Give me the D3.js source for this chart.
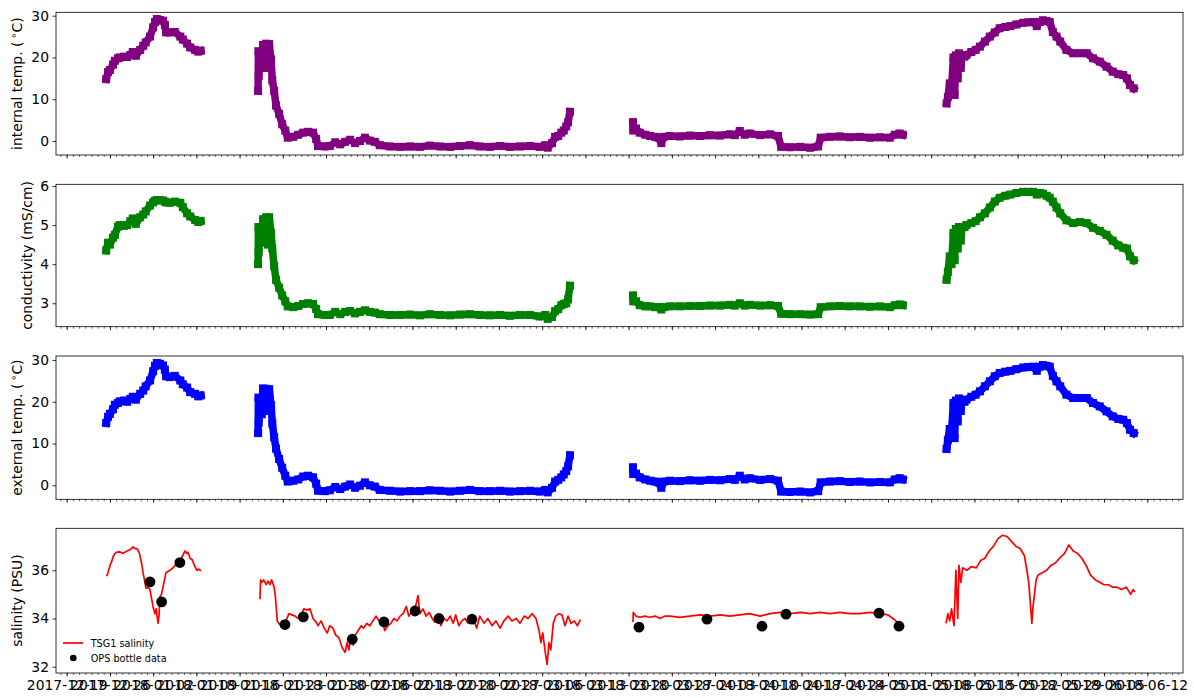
<!DOCTYPE html>
<html>
<head>
<meta charset="utf-8">
<script src="https://cdn.jsdelivr.net/npm/d3@7"></script>
<style>
  body { margin: 0; background: #fff; }
  svg text { font-family: "DejaVu Sans", sans-serif; }
</style>
</head>
<body>
<svg id="chart" width="1194" height="698"></svg>
<script>
// Times are days since 2017-12-19 (first labelled tick)
const t0 = new Date(2017, 11, 19);

// Segment A
const tA = [6.4, 6.7, 7.0, 7.5, 7.8, 8.3, 8.6, 9.3, 9.8, 10.3, 10.7, 11.2, 11.9, 12.4, 12.8, 13.5, 14.0, 14.3, 14.6, 15.1, 15.6, 15.9, 16.1, 16.7, 17.5, 18.4, 18.8, 19.5, 20.0, 20.8, 21.3, 21.7];
const intTempA = [14.8, 16.5, 17.0, 18.3, 19.2, 19.8, 20.0, 20.2, 20.1, 20.6, 21.3, 20.4, 21.8, 22.8, 23.6, 25.0, 27.2, 28.5, 29.2, 29.0, 28.8, 27.8, 26.0, 26.0, 26.1, 25.0, 24.3, 23.3, 22.4, 21.8, 21.4, 21.6];
const condA = [4.35, 4.55, 4.5, 4.68, 4.75, 4.96, 5.0, 4.98, 5.0, 5.1, 5.17, 5.03, 5.2, 5.27, 5.35, 5.5, 5.58, 5.62, 5.64, 5.64, 5.63, 5.6, 5.58, 5.57, 5.6, 5.57, 5.46, 5.3, 5.22, 5.13, 5.08, 5.1];
const extTempA = [14.9, 16.4, 17.1, 18.2, 19.3, 19.7, 20.1, 20.3, 20.0, 20.7, 21.2, 20.5, 21.9, 22.7, 23.7, 25.1, 27.3, 28.6, 29.3, 29.1, 28.7, 27.7, 26.1, 25.9, 26.2, 25.1, 24.2, 23.4, 22.3, 21.9, 21.3, 21.5];

// Segment B
const tB = [31.0, 31.05, 31.1, 31.3, 31.6, 31.8, 32.1, 32.3, 32.6, 32.8, 33.1, 33.3, 33.6, 33.9, 34.4, 34.9, 35.4, 35.8, 36.7, 37.5, 38.3, 39.1, 39.9, 40.4, 40.7, 41.8, 42.6, 43.5, 44.3, 45.1, 45.9, 46.7, 47.5, 48.3, 49.1, 49.9, 50.7, 52.4, 54.0, 55.6, 57.2, 58.8, 60.5, 62.1, 63.7, 65.3, 66.9, 68.5, 70.2, 71.8, 73.4, 75.0, 76.6, 77.5, 77.9, 78.6, 79.1, 79.6, 80.1, 80.5, 80.9, 81.2, 81.5];
const intTempB = [12.0, 21.5, 15.5, 20.5, 17.5, 23.0, 18.0, 23.3, 17.5, 23.2, 19.5, 14.5, 12.0, 8.5, 6.5, 4.0, 2.5, 0.8, 1.0, 1.5, 2.0, 2.2, 2.0, 0.5, -1.2, -1.3, -1.2, -0.3, -0.8, -0.2, 0.3, -0.5, 0.0, 0.8, 0.1, -0.2, -1.0, -1.3, -1.4, -1.3, -1.4, -1.1, -1.3, -1.4, -1.2, -1.0, -1.3, -1.4, -1.2, -1.4, -1.3, -1.2, -1.4, -1.0, -1.6, -0.5, 1.0, 1.2, 2.0, 2.5, 3.5, 4.5, 7.0];
const condB = [4.0, 4.95, 4.3, 4.8, 4.55, 5.15, 4.6, 5.2, 4.5, 5.2, 4.8, 4.4, 3.95, 3.6, 3.4, 3.2, 3.05, 2.92, 2.9, 2.93, 2.98, 3.0, 2.98, 2.85, 2.72, 2.7, 2.7, 2.78, 2.72, 2.78, 2.8, 2.74, 2.78, 2.82, 2.78, 2.76, 2.72, 2.7, 2.7, 2.71, 2.69, 2.72, 2.7, 2.69, 2.71, 2.72, 2.7, 2.69, 2.7, 2.68, 2.7, 2.7, 2.66, 2.7, 2.6, 2.65, 2.8, 2.85, 2.95, 2.98, 3.0, 3.1, 3.45];
const extTempB = [12.5, 21.0, 15.0, 20.8, 17.0, 23.2, 18.3, 23.1, 17.8, 23.0, 19.2, 14.8, 11.5, 8.8, 6.3, 4.2, 2.3, 0.9, 1.1, 1.4, 2.1, 2.3, 1.9, 0.4, -1.3, -1.4, -1.2, -0.4, -0.9, -0.3, 0.2, -0.6, -0.1, 0.7, 0.0, -0.3, -1.1, -1.3, -1.5, -1.4, -1.4, -1.2, -1.3, -1.5, -1.3, -1.1, -1.4, -1.4, -1.3, -1.5, -1.4, -1.3, -1.5, -1.1, -1.7, -0.6, 0.9, 1.3, 1.9, 2.6, 3.4, 4.6, 7.2];

// Segment C
const tC = [91.7, 91.75, 92.2, 92.8, 93.7, 94.5, 95.3, 95.8, 96.3, 96.7, 97.7, 99.3, 100.9, 102.6, 104.2, 105.8, 107.4, 108.2, 109.0, 109.8, 110.6, 112.3, 113.9, 115.2, 115.7, 117.1, 118.8, 120.4, 121.7, 122.1, 123.6, 125.2, 126.8, 128.4, 130.1, 131.7, 133.3, 134.1, 134.9, 135.4];
const intTempC = [4.5, 2.5, 3.0, 2.0, 1.5, 1.2, 1.0, 0.8, -0.5, 1.0, 1.2, 1.1, 1.3, 1.2, 1.4, 1.3, 1.6, 1.4, 2.4, 1.5, 1.8, 1.4, 1.6, 1.2, -1.4, -1.5, -1.4, -1.6, -1.3, 0.8, 1.0, 1.1, 0.9, 1.0, 0.8, 0.9, 0.8, 1.5, 1.8, 1.5];
const condC = [3.2, 3.05, 3.05, 2.95, 2.92, 2.92, 2.9, 2.9, 2.84, 2.9, 2.92, 2.92, 2.93, 2.93, 2.94, 2.94, 2.96, 2.94, 3.0, 2.94, 2.96, 2.94, 2.95, 2.93, 2.73, 2.72, 2.72, 2.71, 2.72, 2.9, 2.92, 2.93, 2.92, 2.92, 2.91, 2.92, 2.9, 2.95, 2.97, 2.95];
const extTempC = [4.3, 2.7, 2.8, 1.9, 1.4, 1.1, 0.9, 0.7, -0.6, 0.9, 1.1, 1.0, 1.2, 1.1, 1.3, 1.2, 1.5, 1.3, 2.3, 1.4, 1.7, 1.3, 1.5, 1.1, -1.5, -1.6, -1.5, -1.7, -1.4, 0.7, 0.9, 1.0, 0.8, 0.9, 0.7, 0.8, 0.7, 1.4, 1.7, 1.4];

// Segment D
const tD = [142.5, 142.7, 143.0, 143.3, 143.6, 143.8, 144.0, 144.3, 144.5, 144.8, 145.0, 145.4, 145.7, 146.5, 147.2, 147.9, 148.7, 149.5, 150.3, 151.1, 152.0, 152.8, 153.8, 154.9, 155.7, 156.5, 157.1, 157.6, 158.1, 158.7, 159.2, 159.7, 160.3, 160.9, 161.9, 163.0, 164.1, 165.2, 166.2, 167.3, 168.4, 169.4, 170.3, 171.1, 171.7, 172.2, 172.8];
const intTempD = [9.0, 10.5, 13.8, 12.5, 20.0, 11.0, 20.5, 15.0, 21.0, 17.5, 20.5, 20.2, 20.6, 21.3, 21.8, 22.6, 23.8, 25.0, 26.0, 27.0, 27.3, 27.5, 27.9, 28.3, 28.4, 28.5, 27.5, 28.5, 28.9, 28.7, 28.5, 26.1, 25.0, 23.8, 21.8, 21.0, 21.0, 21.0, 19.8, 19.0, 17.8, 16.6, 16.0, 15.8, 15.0, 13.4, 12.6];
const condD = [3.6, 3.8, 4.2, 4.0, 4.8, 4.1, 4.9, 4.4, 4.95, 4.6, 4.95, 4.95, 5.0, 5.05, 5.1, 5.2, 5.3, 5.45, 5.6, 5.7, 5.75, 5.78, 5.82, 5.85, 5.85, 5.85, 5.78, 5.82, 5.8, 5.75, 5.7, 5.6, 5.45, 5.3, 5.12, 5.05, 5.08, 5.05, 4.93, 4.85, 4.75, 4.6, 4.48, 4.42, 4.4, 4.2, 4.1];
const extTempD = [8.7, 10.8, 13.5, 12.8, 19.7, 11.3, 20.3, 15.3, 20.8, 17.8, 20.3, 20.0, 20.5, 21.2, 21.7, 22.5, 23.7, 24.9, 26.1, 26.9, 27.2, 27.4, 27.8, 28.2, 28.3, 28.4, 27.4, 28.4, 28.8, 28.6, 28.4, 26.2, 24.9, 23.7, 21.7, 20.9, 20.9, 20.9, 19.7, 18.9, 17.7, 16.5, 15.9, 15.7, 14.9, 13.3, 12.5];

// TSG1 salinity
const salTA = [6.48, 6.69, 7.01, 7.34, 7.5, 7.82, 8.15, 8.63, 9.12, 9.77, 10.25, 10.74, 11.06, 11.39, 11.71, 11.87, 12.19, 12.36, 12.6, 12.84, 13.17, 13.49, 13.7, 13.98, 14.3, 14.5, 14.79, 14.95, 15.11, 15.35, 15.6, 16.08, 16.73, 17.2, 17.54, 18.03, 18.67, 19.16, 19.48, 19.64, 19.97, 20.29, 20.78, 21.1, 21.4, 21.75];
const salA = [35.75, 35.9, 36.2, 36.4, 36.55, 36.7, 36.75, 36.76, 36.7, 36.8, 36.85, 36.97, 36.9, 36.9, 36.75, 36.6, 36.2, 35.9, 35.6, 35.25, 35.3, 35.2, 34.9, 34.5, 34.2, 34.4, 33.8, 34.1, 34.9, 35.0, 35.3, 35.9, 36.0, 36.1, 36.2, 36.2, 36.55, 36.8, 36.7, 36.75, 36.5, 36.45, 36.15, 36.0, 36.05, 35.97];
const salTB = [31.3, 31.4, 31.6, 31.9, 32.3, 32.6, 32.9, 33.2, 33.6, 33.8, 34.1, 34.5, 35.0, 35.5, 36.0, 36.5, 37.0, 37.5, 37.9, 38.4, 38.9, 39.4, 39.9, 40.4, 40.7, 41.2, 41.7, 42.2, 42.6, 43.1, 43.6, 44.1, 44.6, 45.1, 45.4, 45.7, 46.0, 46.4, 46.7, 47.2, 47.7, 48.1, 48.6, 49.1, 49.6, 50.1, 50.6, 51.1, 51.5, 52.0, 52.5, 53.0, 53.5, 54.0, 54.5, 55.0, 55.4, 55.9, 56.4, 56.9, 57.2, 57.7, 58.2, 58.7, 59.2, 59.6, 60.1, 60.6, 61.1, 61.6, 62.1, 62.6, 63.0, 63.5, 64.0, 64.5, 65.0, 65.5, 66.0, 66.4, 66.9, 67.6, 68.2, 68.9, 69.5, 70.2, 70.8, 71.5, 72.1, 72.8, 73.4, 74.1, 74.7, 75.4, 76.0, 76.5, 76.8, 77.1, 77.5, 77.8, 78.1, 78.4, 78.8, 79.2, 79.7, 80.2, 80.7, 81.2, 81.7, 82.2, 82.7, 83.2];
const salB = [34.8, 35.6, 35.5, 35.6, 35.4, 35.55, 35.4, 35.6, 35.3, 34.9, 33.9, 33.75, 33.8, 33.9, 34.2, 34.15, 34.1, 34.0, 34.1, 34.4, 34.35, 34.4, 34.0, 33.85, 33.7, 33.9, 33.6, 33.4, 33.7, 33.6, 33.3, 33.2, 32.8, 32.6, 33.0, 32.7, 33.2, 32.9, 33.3, 33.5, 33.7, 33.6, 33.8, 33.7, 33.9, 34.1, 33.9, 34.0, 33.5, 33.7, 33.8, 34.0, 33.9, 34.1, 34.2, 34.5, 34.1, 34.3, 34.4, 34.95, 34.2, 34.4, 34.1, 34.25, 34.0, 33.85, 34.1, 33.7, 34.0, 33.9, 34.1, 33.8, 34.15, 33.7, 33.9, 34.0, 33.8, 34.0, 33.9, 33.6, 34.1, 33.8, 34.0, 33.7, 33.9, 33.6, 33.9, 34.1, 33.9, 34.0, 33.8, 34.1, 34.0, 34.2, 34.0, 33.5, 33.0, 33.4, 32.6, 32.1, 33.0, 32.7, 33.8, 34.1, 34.2, 34.15, 33.7, 34.1, 33.8, 33.9, 33.7, 33.95];
const salTC = [91.7, 91.75, 92.2, 92.8, 93.6, 94.4, 95.3, 96.1, 96.9, 97.7, 99.3, 100.9, 102.6, 104.2, 105.8, 107.4, 109.0, 110.6, 112.3, 113.9, 115.5, 117.1, 118.8, 120.4, 122.0, 123.6, 125.2, 126.8, 128.4, 130.1, 131.7, 133.0, 133.8, 134.3, 134.9];
const salC = [33.85, 34.25, 34.1, 34.05, 34.1, 34.05, 34.1, 34.0, 34.1, 34.1, 34.05, 34.1, 34.15, 34.1, 34.15, 34.1, 34.15, 34.2, 34.1, 34.2, 34.25, 34.2, 34.25, 34.2, 34.25, 34.2, 34.25, 34.2, 34.2, 34.25, 34.2, 34.15, 34.0, 33.9, 33.75];
const salTD = [142.4, 142.7, 143.0, 143.3, 143.7, 144.0, 144.3, 144.5, 144.8, 145.1, 145.8, 146.5, 147.3, 148.0, 148.7, 149.4, 150.1, 150.8, 151.5, 152.3, 153.0, 153.7, 154.4, 155.1, 155.5, 155.8, 156.1, 156.3, 156.5, 157.0, 157.3, 158.0, 158.7, 159.4, 160.1, 160.8, 161.6, 162.3, 163.0, 163.7, 164.4, 165.1, 165.8, 166.6, 167.3, 168.0, 168.7, 169.4, 170.1, 170.8, 171.6, 172.3, 172.7, 173.0];
const salD = [33.8, 34.2, 33.9, 34.4, 33.7, 36.0, 34.0, 36.2, 35.5, 36.1, 36.0, 36.15, 36.1, 36.4, 36.5, 36.8, 37.0, 37.3, 37.45, 37.4, 37.2, 37.0, 36.9, 36.6, 36.0, 35.5, 34.5, 33.8, 34.5, 35.6, 35.8, 35.9, 36.0, 36.2, 36.3, 36.5, 36.7, 37.05, 36.8, 36.7, 36.5, 36.2, 35.8, 35.6, 35.5, 35.4, 35.4, 35.3, 35.3, 35.2, 35.3, 35.0, 35.2, 35.1];

// OPS bottle samples
const bottleDays = [13.49, 15.38, 18.33, 35.35, 38.32, 46.25, 51.38, 56.41, 60.29, 65.64, 92.68, 103.69, 112.6, 116.49, 131.55, 134.79];
const bottleSal = [35.52, 34.69, 36.32, 33.75, 34.07, 33.14, 33.86, 34.31, 34.0, 33.97, 33.64, 33.97, 33.68, 34.18, 34.22, 33.68];

const toDate = d => new Date(t0.getTime() + d * 864e5);
const zip = (ts, vs) => ts.map((t, i) => ({ date: toDate(t), value: vs[i] }));

const svg = d3.select("#chart");
svg.append("rect").attr("width", 1194).attr("height", 698).attr("fill", "#fff");

const left = 56, right = 1183;
const x = d3.scaleTime()
  .domain([toDate(-1.73), toDate(180.78)])
  .range([left, right]);

const panels = [
  { label: "internal temp. (", deg: true, top: 12.3, bottom: 155, domain: [-3.35, 30.81], ticks: [0, 10, 20, 30], color: "purple", labelX: 22,
    segs: [zip(tA, intTempA), zip(tB, intTempB), zip(tC, intTempC), zip(tD, intTempD)] },
  { label: "conductivity (mS/cm)", top: 184.3, bottom: 326.7, domain: [2.40, 6.043], ticks: [3, 4, 5, 6], color: "green", labelX: 31.5,
    segs: [zip(tA, condA), zip(tB, condB), zip(tC, condC), zip(tD, condD)] },
  { label: "external temp. (", deg: true, top: 356, bottom: 499.3, domain: [-3.35, 30.96], ticks: [0, 10, 20, 30], color: "blue", labelX: 22,
    segs: [zip(tA, extTempA), zip(tB, extTempB), zip(tC, extTempC), zip(tD, extTempD)] },
  { label: "salinity (PSU)", top: 528.3, bottom: 673, domain: [31.74, 37.74], ticks: [32, 34, 36], color: "red", labelX: 22,
    segs: [zip(salTA, salA), zip(salTB, salB), zip(salTC, salC), zip(salTD, salD)], line: true }
];

const fontSize = "13.9px";

panels.forEach((p, pi) => {
  const y = d3.scaleLinear().domain(p.domain).range([p.bottom, p.top]);
  const g = svg.append("g");
  const line = d3.line().x(d => x(d.date)).y(d => y(d.value));

  if (p.line) {
    // TSG salinity trace
    p.segs.forEach(s => {
      g.append("path").datum(s)
        .attr("d", line)
        .attr("fill", "none")
        .attr("stroke", p.color)
        .attr("stroke-width", 1.7)
        .attr("stroke-linejoin", "round");
    });
    // bottle data
    g.selectAll(".bottle")
      .data(zip(bottleDays, bottleSal))
      .enter().append("circle")
      .attr("class", "bottle")
      .attr("cx", d => x(d.date))
      .attr("cy", d => y(d.value))
      .attr("r", 5.4)
      .attr("fill", "#000");
  } else {
    // dense square markers, joined so the band stays solid
    p.segs.forEach(s => {
      g.append("path").datum(s)
        .attr("d", line)
        .attr("fill", "none")
        .attr("stroke", p.color)
        .attr("stroke-width", 7.5)
        .attr("stroke-linejoin", "bevel")
        .attr("stroke-linecap", "square");
      g.selectAll(null).data(s).enter().append("rect")
        .attr("x", d => x(d.date) - 4)
        .attr("y", d => y(d.value) - 4)
        .attr("width", 8)
        .attr("height", 8)
        .attr("fill", p.color);
    });
  }

  // y axis
  const yAxis = svg.append("g")
    .attr("transform", `translate(${left},0)`)
    .call(d3.axisLeft(y).tickValues(p.ticks).tickFormat(d3.format("d")).tickSize(3.5).tickPadding(3.5));
  yAxis.select(".domain").remove();
  yAxis.selectAll("line").attr("stroke", "#000").attr("stroke-width", 0.8);
  yAxis.selectAll("text").attr("font-size", fontSize).attr("font-family", "DejaVu Sans").attr("fill", "#000");

  // x axis: daily minor ticks, weekly major ticks
  const isBottom = pi === panels.length - 1;
  const xMinor = svg.append("g")
    .attr("transform", `translate(0,${p.bottom})`)
    .call(d3.axisBottom(x).ticks(d3.timeDay.every(1)).tickSize(2).tickFormat(""));
  xMinor.select(".domain").remove();
  xMinor.selectAll("line").attr("stroke", "#000").attr("stroke-width", 0.6);

  const xMajor = svg.append("g")
    .attr("transform", `translate(0,${p.bottom})`)
    .call(d3.axisBottom(x).ticks(d3.timeTuesday.every(1)).tickSize(3.5).tickPadding(3.5)
      .tickFormat(isBottom ? d3.timeFormat("%Y-%m-%d") : ""));
  xMajor.select(".domain").remove();
  xMajor.selectAll("line").attr("stroke", "#000").attr("stroke-width", 0.8);
  xMajor.selectAll("text").attr("font-size", fontSize).attr("font-family", "DejaVu Sans").attr("fill", "#000");

  // frame
  svg.append("rect")
    .attr("x", left).attr("y", p.top)
    .attr("width", right - left).attr("height", p.bottom - p.top)
    .attr("fill", "none").attr("stroke", "#000").attr("stroke-width", 0.8);

  // y label
  const cy = (p.top + p.bottom) / 2;
  const lab = svg.append("text")
    .attr("transform", `translate(${p.labelX},${cy}) rotate(-90)`)
    .attr("text-anchor", "middle")
    .attr("font-size", fontSize)
    .attr("fill", "#000")
    .text(p.label);
  if (p.deg) {
    lab.append("tspan").text("\u2009");
    lab.append("tspan").attr("font-size", "10px").attr("dy", -5).text("\u2218");
    lab.append("tspan").attr("dy", 5).text("C)");
  }

  // legend in the salinity panel
  if (p.line) {
    const lg = svg.append("g").attr("font-size", "9.7px");
    lg.append("line").attr("x1", 63).attr("x2", 83).attr("y1", 643).attr("y2", 643)
      .attr("stroke", "red").attr("stroke-width", 1.7);
    lg.append("text").attr("x", 90.7).attr("y", 646.5).text("TSG1 salinity");
    lg.append("circle").attr("cx", 73.3).attr("cy", 658).attr("r", 3.3).attr("fill", "#000");
    lg.append("text").attr("x", 90.7).attr("y", 661.5).text("OPS bottle data");
  }
});
</script>
</body>
</html>
